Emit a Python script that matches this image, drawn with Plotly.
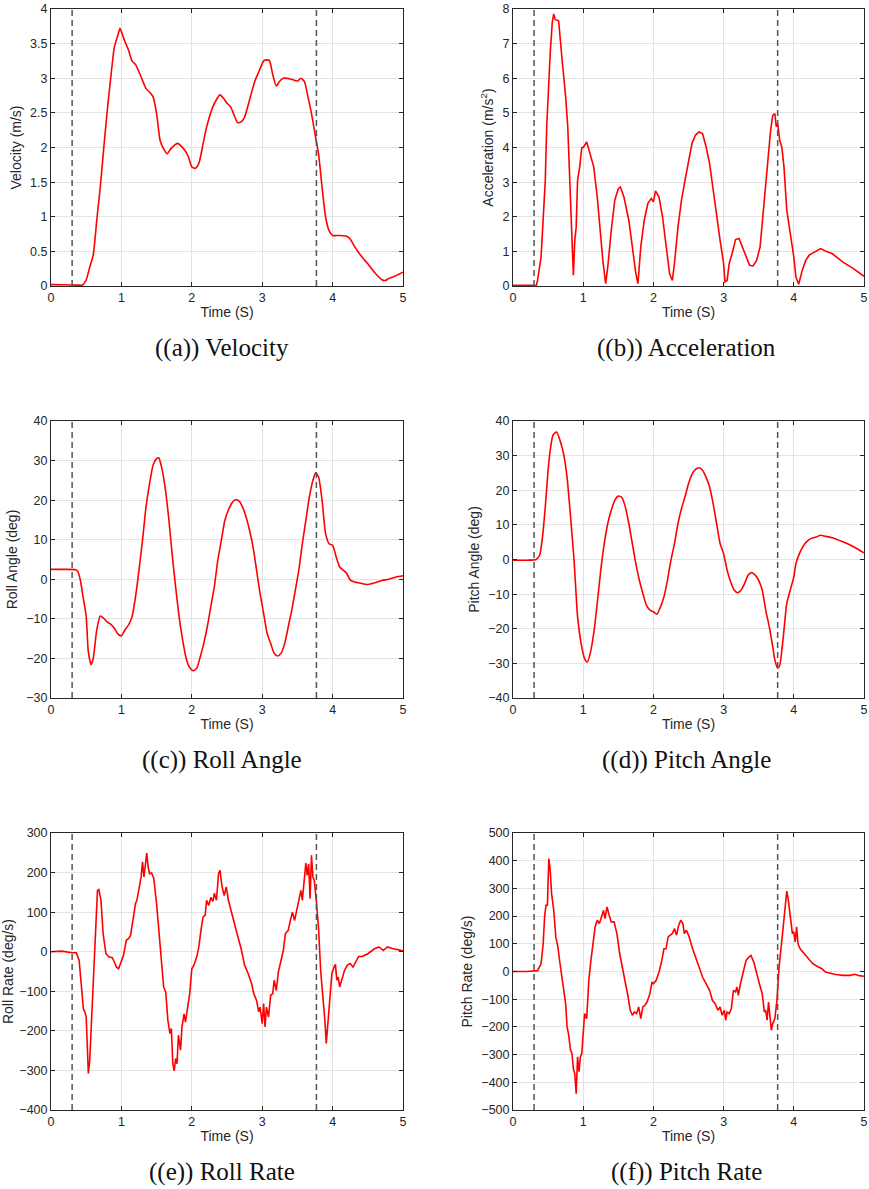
import plotly.graph_objects as go

# ---------------- data ----------------
vel_t = [0.00, 0.20, 0.40, 0.45, 0.50, 0.55, 0.60, 0.65, 0.70, 0.75,
         0.80, 0.85, 0.90, 0.95, 0.98, 1.00, 1.05, 1.10, 1.15, 1.20,
         1.25, 1.30, 1.35, 1.40, 1.45, 1.50, 1.55, 1.60, 1.65, 1.70,
         1.75, 1.80, 1.85, 1.90, 1.95, 2.00, 2.05, 2.10, 2.15, 2.20,
         2.25, 2.30, 2.35, 2.40, 2.45, 2.50, 2.55, 2.60, 2.65, 2.70,
         2.75, 2.80, 2.85, 2.90, 2.95, 3.00, 3.03, 3.10, 3.15, 3.20,
         3.25, 3.30, 3.40, 3.50, 3.55, 3.60, 3.65, 3.70, 3.75, 3.80,
         3.85, 3.90, 3.95, 4.00, 4.10, 4.20, 4.25, 4.30, 4.40, 4.50,
         4.60, 4.70, 4.75, 4.80, 4.90, 5.00]
vel_v = [0.020, 0.018, 0.012, 0.015, 0.09, 0.27, 0.45, 0.95, 1.43, 2.00,
         2.54, 3.02, 3.45, 3.62, 3.72, 3.67, 3.53, 3.41, 3.25, 3.20,
         3.09, 2.97, 2.85, 2.80, 2.73, 2.49, 2.10, 1.98, 1.91, 1.98,
         2.03, 2.06, 2.02, 1.96, 1.87, 1.72, 1.70, 1.77, 2.00, 2.25,
         2.44, 2.59, 2.69, 2.76, 2.71, 2.64, 2.59, 2.47, 2.36, 2.37,
         2.44, 2.61, 2.80, 2.97, 3.09, 3.21, 3.26, 3.26, 3.05, 2.89,
         2.96, 3.00, 2.99, 2.96, 3.00, 2.95, 2.73, 2.49, 2.20, 1.91,
         1.43, 1.00, 0.80, 0.73, 0.73, 0.72, 0.68, 0.59, 0.44, 0.32,
         0.19, 0.09, 0.08, 0.11, 0.15, 0.20]

acc_t = [0.00, 0.15, 0.30, 0.33, 0.35, 0.40, 0.43, 0.46, 0.48, 0.50,
         0.53, 0.56, 0.58, 0.60, 0.65, 0.70, 0.75, 0.78, 0.80, 0.83,
         0.86, 0.88, 0.90, 0.92, 0.95, 0.98, 1.00, 1.05, 1.10, 1.15,
         1.20, 1.25, 1.28, 1.32, 1.35, 1.40, 1.45, 1.50, 1.53, 1.58,
         1.65, 1.70, 1.75, 1.78, 1.82, 1.87, 1.92, 1.97, 2.00, 2.03,
         2.08, 2.13, 2.18, 2.23, 2.27, 2.30, 2.35, 2.40, 2.45, 2.50,
         2.55, 2.60, 2.65, 2.70, 2.75, 2.80, 2.85, 2.90, 2.95, 3.00,
         3.02, 3.05, 3.08, 3.12, 3.17, 3.22, 3.27, 3.32, 3.37, 3.42,
         3.47, 3.52, 3.57, 3.62, 3.67, 3.70, 3.73, 3.75, 3.77, 3.80,
         3.83, 3.86, 3.90, 3.95, 4.00, 4.03, 4.07, 4.12, 4.17, 4.22,
         4.30, 4.38, 4.45, 4.55, 4.70, 4.85, 5.00]
acc_v = [0.02, 0.03, 0.02, 0.00, 0.16, 0.84, 2.00, 3.05, 4.60, 5.60,
         6.72, 7.63, 7.86, 7.70, 7.66, 6.52, 5.47, 4.60, 3.44, 2.09,
         0.31, 1.32, 1.70, 3.05, 3.44, 4.00, 4.00, 4.16, 3.83, 3.44,
         2.57, 1.42, 0.74, 0.07, 0.55, 1.61, 2.48, 2.81, 2.86, 2.57,
         1.90, 1.13, 0.36, 0.07, 1.13, 1.90, 2.38, 2.53, 2.43, 2.75,
         2.57, 2.00, 1.22, 0.36, 0.16, 0.65, 1.70, 2.48, 3.05, 3.63,
         4.12, 4.36, 4.45, 4.40, 4.02, 3.54, 2.77, 2.09, 1.32, 0.65,
         0.12, 0.16, 0.65, 0.93, 1.34, 1.37, 1.13, 0.84, 0.60, 0.58,
         0.74, 1.13, 2.28, 3.34, 4.50, 4.93, 4.98, 4.60, 4.69, 4.20,
         4.00, 3.44, 2.19, 1.51, 0.84, 0.26, 0.05, 0.45, 0.74, 0.89,
         0.98, 1.08, 1.01, 0.93, 0.69, 0.50, 0.28]

roll_t = [0.00, 0.20, 0.35, 0.38, 0.42, 0.45, 0.50, 0.53, 0.57, 0.60,
          0.65, 0.70, 0.75, 0.80, 0.85, 0.90, 0.95, 1.00, 1.05, 1.10,
          1.15, 1.20, 1.25, 1.30, 1.35, 1.40, 1.45, 1.50, 1.53, 1.57,
          1.62, 1.67, 1.72, 1.77, 1.82, 1.87, 1.92, 1.97, 2.02, 2.07,
          2.12, 2.17, 2.22, 2.27, 2.32, 2.37, 2.42, 2.47, 2.52, 2.57,
          2.62, 2.67, 2.72, 2.77, 2.82, 2.87, 2.92, 2.97, 3.02, 3.07,
          3.12, 3.17, 3.22, 3.27, 3.32, 3.37, 3.42, 3.47, 3.52, 3.57,
          3.62, 3.67, 3.72, 3.76, 3.80, 3.85, 3.90, 3.95, 4.00, 4.05,
          4.10, 4.15, 4.20, 4.25, 4.30, 4.40, 4.50, 4.60, 4.70, 4.80,
          4.90, 5.00]
roll_v = [2.5, 2.5, 2.4, 2.0, -0.5, -3.9, -9.4, -18.3, -21.6, -20.0,
          -12.8, -9.3, -9.9, -10.8, -11.4, -12.4, -13.8, -14.3, -12.8, -11.6,
          -9.5, -4.5, 2.3, 9.9, 18.3, 24.2, 28.8, 30.5, 30.7, 28.4,
          23.3, 15.8, 6.5, -1.9, -9.5, -15.4, -20.0, -22.3, -23.1, -22.5,
          -19.6, -16.2, -12.0, -6.9, -1.9, 4.9, 9.9, 14.9, 17.5, 19.3,
          20.1, 19.8, 18.3, 15.8, 12.4, 8.2, 2.3, -3.6, -8.6, -13.7,
          -16.2, -18.7, -19.4, -18.6, -16.2, -12.0, -7.8, -2.8, 2.3, 9.0,
          14.9, 20.8, 25.0, 26.9, 25.9, 20.0, 11.6, 9.0, 8.6, 5.7,
          3.1, 2.3, 1.5, -0.2, -0.6, -1.0, -1.3, -0.9, -0.3, 0.0,
          0.6, 0.9]

pitch_t = [0.00, 0.20, 0.33, 0.38, 0.42, 0.46, 0.50, 0.53, 0.57, 0.62,
           0.67, 0.72, 0.77, 0.82, 0.87, 0.92, 0.97, 1.02, 1.06, 1.10,
           1.15, 1.20, 1.25, 1.30, 1.35, 1.40, 1.45, 1.50, 1.55, 1.60,
           1.65, 1.70, 1.75, 1.80, 1.85, 1.90, 1.95, 2.00, 2.05, 2.10,
           2.15, 2.20, 2.25, 2.30, 2.35, 2.40, 2.45, 2.50, 2.55, 2.60,
           2.65, 2.70, 2.75, 2.80, 2.85, 2.90, 2.95, 3.00, 3.05, 3.10,
           3.15, 3.20, 3.25, 3.30, 3.35, 3.40, 3.45, 3.50, 3.55, 3.60,
           3.65, 3.70, 3.73, 3.77, 3.80, 3.83, 3.86, 3.90, 3.95, 4.00,
           4.03, 4.08, 4.13, 4.18, 4.25, 4.32, 4.38, 4.45, 4.55, 4.70,
           4.85, 5.00]
pitch_v = [-0.2, -0.2, 0.0, 1.3, 6.5, 15.2, 25.8, 31.5, 35.9, 36.8,
           34.4, 30.6, 23.8, 12.3, -0.2, -16.5, -24.2, -28.6, -29.6, -27.1,
           -21.3, -12.7, -3.1, 4.6, 10.4, 14.2, 17.1, 18.3, 17.9, 15.2,
           10.4, 4.6, -1.2, -6.0, -9.8, -13.2, -14.6, -15.1, -15.8, -13.7,
           -10.8, -6.0, -0.2, 4.6, 10.4, 14.7, 18.1, 21.9, 24.6, 26.0,
           26.5, 25.8, 23.8, 21.0, 16.2, 10.4, 4.6, 1.7, -3.1, -6.4,
           -8.8, -9.6, -8.8, -6.9, -4.5, -3.8, -4.5, -6.0, -8.8, -14.6,
           -19.4, -25.2, -29.0, -31.4, -30.5, -26.2, -20.4, -12.7, -8.8, -5.0,
           -1.2, 1.7, 3.7, 5.1, 6.1, 6.5, 7.0, 6.7, 6.3, 5.1,
           3.7, 1.9]

rollrate_t = [0.00, 0.15, 0.30, 0.36, 0.40, 0.43, 0.46, 0.48, 0.50, 0.52,
              0.53, 0.55, 0.58, 0.61, 0.63, 0.66, 0.68, 0.71, 0.74, 0.78,
              0.82, 0.87, 0.90, 0.93, 0.96, 1.00, 1.03, 1.07, 1.10, 1.13,
              1.17, 1.20, 1.22, 1.25, 1.28, 1.30, 1.32, 1.34, 1.36, 1.38,
              1.40, 1.43, 1.46, 1.50, 1.53, 1.57, 1.60, 1.63, 1.66, 1.69,
              1.71, 1.73, 1.75, 1.77, 1.79, 1.81, 1.84, 1.86, 1.89, 1.91,
              1.94, 1.97, 2.00, 2.03, 2.07, 2.10, 2.13, 2.16, 2.19, 2.21,
              2.24, 2.27, 2.30, 2.32, 2.35, 2.38, 2.40, 2.43, 2.46, 2.49,
              2.52, 2.56, 2.60, 2.65, 2.70, 2.75, 2.80, 2.85, 2.88, 2.92,
              2.95, 2.97, 3.00, 3.02, 3.04, 3.06, 3.09, 3.12, 3.15, 3.17,
              3.20, 3.23, 3.27, 3.30, 3.33, 3.37, 3.40, 3.43, 3.46, 3.49,
              3.52, 3.55, 3.57, 3.60, 3.62, 3.64, 3.66, 3.68, 3.70, 3.72,
              3.74, 3.77, 3.80, 3.83, 3.86, 3.89, 3.91, 3.93, 3.96, 3.99,
              4.02, 4.04, 4.06, 4.08, 4.10, 4.13, 4.17, 4.21, 4.25, 4.29,
              4.33, 4.37, 4.42, 4.50, 4.60, 4.66, 4.72, 4.78, 4.85, 5.00]
rollrate_v = [0, 1.5, -2.5, -2.5, -22, -81, -144, -152, -165, -258,
              -308, -275, -157, -51, 3, 155, 157, 130, 46, -5,
              -13, -15, -26, -39, -43, -26, -9, 29, 33, 41,
              88, 121, 130, 164, 189, 227, 189, 218, 249, 214,
              197, 199, 185, 121, 54, -22, -89, -102, -173, -207,
              -194, -283, -301, -270, -283, -211, -249, -190, -157, -178,
              -144, -106, -43, -34, -13, 12, 54, 88, 92, 130,
              117, 137, 127, 148, 130, 197, 206, 164, 142, 164,
              130, 100, 75, 41, 8, -34, -55, -81, -106, -123,
              -152, -140, -182, -131, -190, -140, -165, -110, -106, -72,
              -98, -51, -22, 3, 46, 54, 79, 100, 79, 104,
              130, 155, 130, 189, 224, 193, 222, 134, 244, 189,
              180, 126, 62, -47, -106, -173, -232, -190, -123, -55,
              -39, -32, -72, -64, -89, -72, -47, -34, -30, -39,
              -26, -12, -12, -5, 8, 12, 3, 12, 8, 2]

pitchrate_t = [0.00, 0.20, 0.35, 0.40, 0.43, 0.45, 0.47, 0.49, 0.51, 0.53,
               0.55, 0.58, 0.61, 0.64, 0.67, 0.70, 0.73, 0.75, 0.77, 0.79,
               0.82, 0.84, 0.86, 0.88, 0.90, 0.92, 0.94, 0.96, 0.98, 1.00,
               1.02, 1.05, 1.08, 1.11, 1.14, 1.17, 1.20, 1.23, 1.26, 1.29,
               1.31, 1.34, 1.37, 1.40, 1.44, 1.48, 1.52, 1.56, 1.60, 1.64,
               1.67, 1.70, 1.73, 1.76, 1.79, 1.82, 1.85, 1.88, 1.91, 1.95,
               1.98, 2.00, 2.04, 2.08, 2.12, 2.15, 2.18, 2.21, 2.24, 2.27,
               2.30, 2.33, 2.36, 2.39, 2.42, 2.44, 2.47, 2.51, 2.55, 2.60,
               2.65, 2.70, 2.75, 2.80, 2.84, 2.88, 2.92, 2.95, 2.98, 3.01,
               3.03, 3.05, 3.08, 3.11, 3.14, 3.17, 3.19, 3.21, 3.24, 3.28,
               3.32, 3.36, 3.39, 3.43, 3.47, 3.51, 3.55, 3.58, 3.60, 3.62,
               3.64, 3.66, 3.68, 3.70, 3.73, 3.76, 3.79, 3.82, 3.85, 3.88,
               3.90, 3.92, 3.95, 3.98, 4.00, 4.02, 4.04, 4.06, 4.09, 4.13,
               4.17, 4.22, 4.27, 4.33, 4.40, 4.45, 4.50, 4.60, 4.70, 4.80,
               4.87, 4.93, 5.00]
pitchrate_v = [0, 0, 3, 28, 100, 197, 239, 239, 408, 365,
               281, 221, 125, 88, 28, -32, -80, -116, -200, -224,
               -284, -296, -351, -369, -441, -308, -362, -308, -296, -224,
               -152, -170, -32, 40, 112, 161, 185, 173, 197, 221,
               191, 233, 203, 179, 179, 137, 64, 16, -32, -92,
               -140, -158, -146, -152, -128, -170, -128, -122, -110, -80,
               -38, -44, -32, -2, 40, 82, 82, 125, 131, 137,
               155, 131, 167, 185, 173, 137, 149, 125, 88, 52,
               16, -20, -44, -68, -104, -116, -140, -128, -158, -140,
               -176, -146, -152, -134, -68, -74, -56, -86, -44, 4,
               40, 52, 58, 34, -8, -44, -80, -146, -140, -176,
               -110, -170, -212, -188, -170, -104, 16, 88, 161, 245,
               290, 262, 197, 137, 143, 107, 161, 100, 82, 70,
               58, 43, 28, 19, 10, -2, -5, -11, -14, -14,
               -10, -15, -17]

event_times = [0.30, 3.77]          # dashed vertical markers

panel_titles = ["Velocity (m/s)", "Acceleration (m/s<sup>2</sup>)",
                "Roll Angle (deg)", "Pitch Angle (deg)",
                "Roll Rate (deg/s)", "Pitch Rate (deg/s)"]
captions = ["((a)) Velocity", "((b)) Acceleration", "((c)) Roll Angle",
            "((d)) Pitch Angle", "((e)) Roll Rate", "((f)) Pitch Rate"]
y_ranges = [[0, 4], [0, 8], [-30, 40], [-40, 40], [-400, 300], [-500, 500]]
y_dticks = [0.5, 1, 10, 10, 100, 100]
x_ticks = [0, 1, 2, 3, 4, 5]

series = [(vel_t, vel_v, "spline"), (acc_t, acc_v, "linear"),
          (roll_t, roll_v, "spline"), (pitch_t, pitch_v, "spline"),
          (rollrate_t, rollrate_v, "linear"), (pitchrate_t, pitchrate_v, "linear")]

# ---------------- layout geometry ----------------
W, H = 869, 1189
col_px = [(51, 403), (513, 864)]
row_px = [(9, 286), (421, 698), (833, 1110)]

def px_x(p):
    return p / W

def px_y(p):
    return 1 - p / H

fig = go.Figure()
AX_COL = "#262626"
FONT = "Liberation Sans, Arial, Helvetica, sans-serif"

layout_axes = {}
annotations = []
shapes = []
for i in range(6):
    r, c = divmod(i, 2)
    n = i + 1
    xa = "x" if n == 1 else f"x{n}"
    ya = "y" if n == 1 else f"y{n}"
    t, v, shp = series[i]
    fig.add_trace(go.Scatter(x=t, y=v, mode="lines", xaxis=xa, yaxis=ya,
                             line=dict(color="#ff0000", width=1.6, shape=shp,
                                       smoothing=0.6 if shp == "spline" else None),
                             showlegend=False, hoverinfo="x+y"))
    x0, x1 = col_px[c]
    y0, y1 = row_px[r]
    common = dict(showline=True, linecolor=AX_COL, linewidth=1, mirror="ticks",
                  ticks="inside", ticklen=4, tickcolor=AX_COL, tickwidth=1,
                  showgrid=True, gridcolor="#e3e3e3", gridwidth=1, zeroline=False,
                  tickfont=dict(family=FONT, size=12.5, color=AX_COL))
    layout_axes["xaxis" if n == 1 else f"xaxis{n}"] = dict(
        domain=[px_x(x0), px_x(x1)], anchor=ya, range=[0, 5],
        tickvals=x_ticks, **common,
        title=dict(text="Time (S)", font=dict(family=FONT, size=14, color=AX_COL),
                   standoff=3))
    layout_axes["yaxis" if n == 1 else f"yaxis{n}"] = dict(
        domain=[px_y(y1), px_y(y0)], anchor=xa, range=y_ranges[i],
        dtick=y_dticks[i], tick0=0, **common,
        title=dict(text=panel_titles[i], font=dict(family=FONT, size=14, color=AX_COL),
                   standoff=5))
    for et in event_times:
        shapes.append(dict(type="line", xref=xa, yref=f"{ya} domain",
                           x0=et, x1=et, y0=0, y1=1,
                           line=dict(color="#555555", width=1.5, dash="6px,4px")))
    cx = 222 if c == 0 else 686
    annotations.append(dict(text=captions[i], xref="paper", yref="paper",
                            x=px_x(cx), y=px_y(y1 + 62), xanchor="center",
                            yanchor="middle", showarrow=False,
                            font=dict(family="Liberation Serif, Times New Roman, serif",
                                      size=25, color="#111111")))

fig.update_layout(width=W, height=H, margin=dict(l=0, r=0, t=0, b=0),
                  template="none", paper_bgcolor="white", plot_bgcolor="white",
                  shapes=shapes, annotations=annotations, showlegend=False,
                  **layout_axes)

fig.write_html("out.html")
